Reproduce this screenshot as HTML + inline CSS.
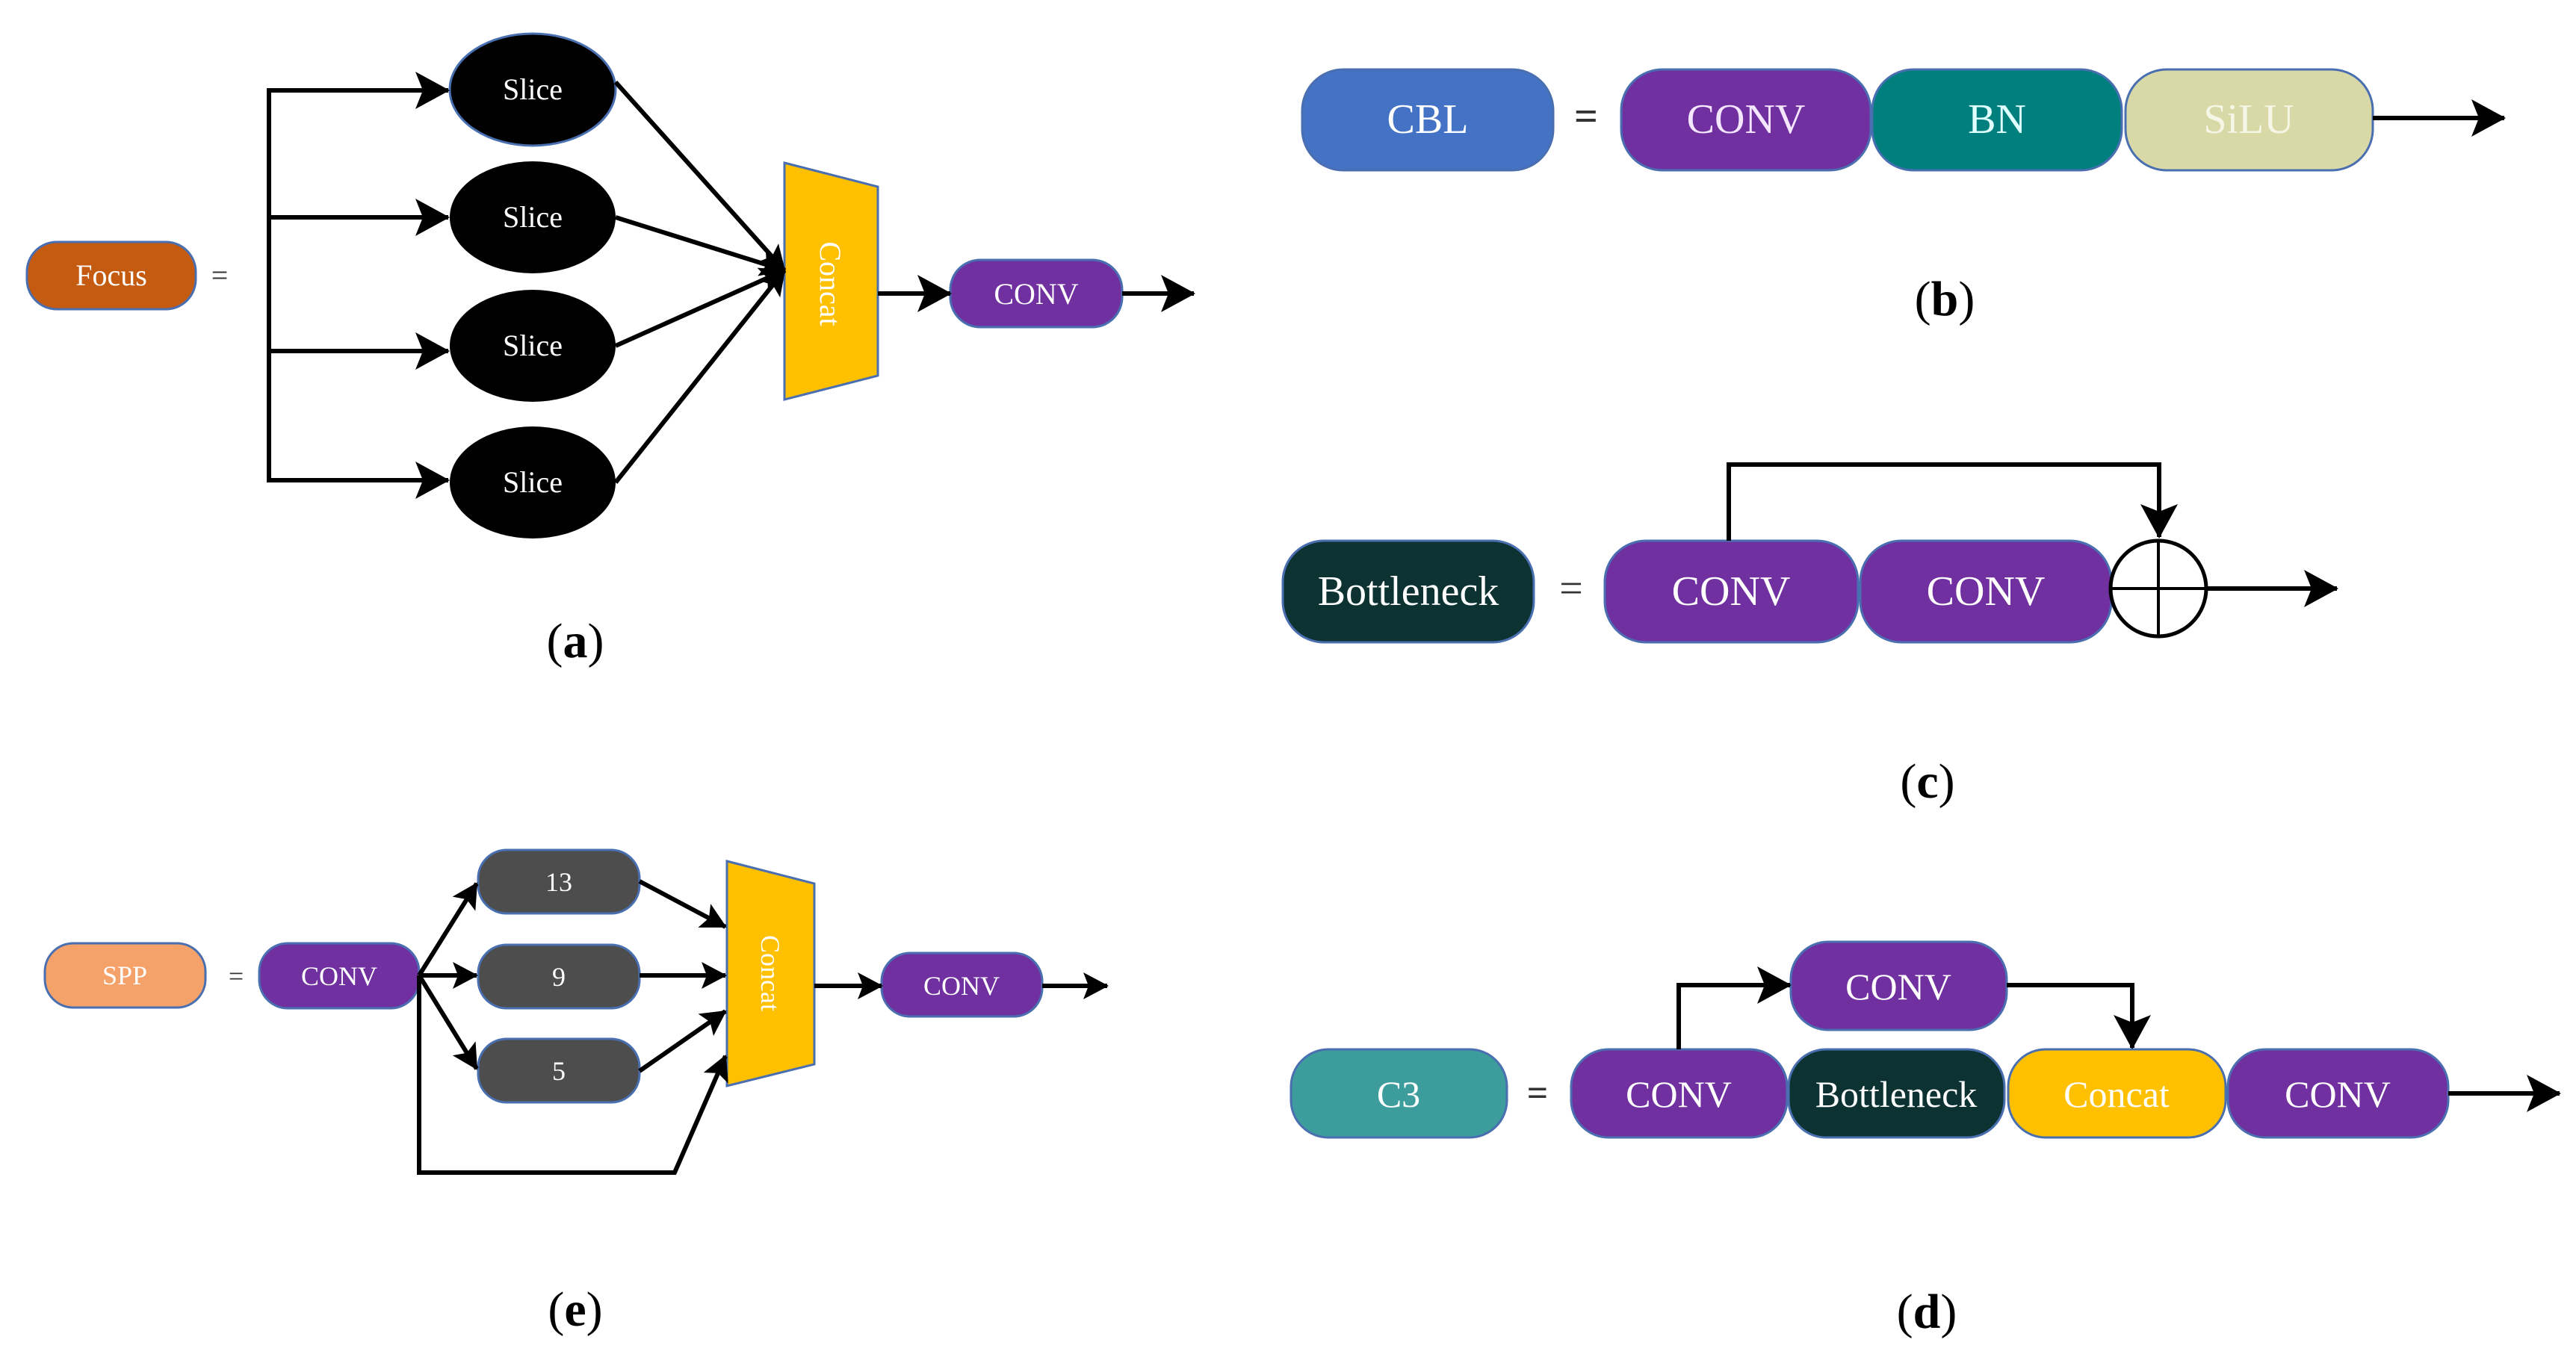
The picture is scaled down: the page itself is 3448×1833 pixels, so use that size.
<!DOCTYPE html>
<html><head><meta charset="utf-8"><style>
html,body{margin:0;padding:0;background:#fff;}
svg{display:block;}
text{font-family:"Liberation Serif",serif;}
</style></head><body>
<svg width="3448" height="1833" viewBox="0 0 3448 1833" xmlns="http://www.w3.org/2000/svg">
<defs>
<marker id="ah" markerUnits="userSpaceOnUse" markerWidth="46" markerHeight="50" refX="44" refY="25" orient="auto">
<path d="M0,0 L46,25 L0,50 L10,25 Z" fill="#000"/>
</marker>
<marker id="as" markerUnits="userSpaceOnUse" markerWidth="34" markerHeight="36" refX="32" refY="18" orient="auto">
<path d="M0,0 L34,18 L0,36 L7,18 Z" fill="#000"/>
</marker>
</defs>
<g stroke="#4a6fb0" stroke-width="3">
<rect x="36" y="324" width="226" height="90" rx="40" fill="#c55a11"/>
<ellipse cx="713" cy="120" rx="111" ry="75" fill="#000"/>
<ellipse cx="713" cy="291" rx="111" ry="75" fill="#000" stroke="none"/>
<ellipse cx="713" cy="463" rx="111" ry="75" fill="#000" stroke="none"/>
<ellipse cx="713" cy="646" rx="111" ry="75" fill="#000" stroke="none"/>
<polygon points="1050,218 1175,250 1175,503 1050,535" fill="#ffc000"/>
<rect x="1272" y="348" width="230" height="90" rx="40" fill="#7030a0"/>
<rect x="1743" y="93" width="336" height="135" rx="55" fill="#4472c4"/>
<rect x="2170" y="93" width="334" height="135" rx="55" fill="#7030a0"/>
<rect x="2506" y="93" width="334" height="135" rx="55" fill="#007f7f"/>
<rect x="2845" y="93" width="331" height="135" rx="55" fill="#d9d9a7"/>
<rect x="1717" y="724" width="336" height="136" rx="55" fill="#0c3232"/>
<rect x="2148" y="724" width="339" height="136" rx="55" fill="#7030a0"/>
<rect x="2490" y="724" width="336" height="136" rx="55" fill="#7030a0"/>
<rect x="60" y="1263" width="215" height="86" rx="38" fill="#f4a26a"/>
<rect x="347" y="1263" width="214" height="87" rx="38" fill="#7030a0"/>
<rect x="640" y="1138" width="216" height="85" rx="38" fill="#4d4d4d"/>
<rect x="640" y="1265" width="216" height="85" rx="38" fill="#4d4d4d"/>
<rect x="640" y="1391" width="216" height="85" rx="38" fill="#4d4d4d"/>
<polygon points="973,1153 1090,1183 1090,1425 973,1454" fill="#ffc000"/>
<rect x="1180" y="1276" width="215" height="85" rx="38" fill="#7030a0"/>
<rect x="1728" y="1405" width="289" height="118" rx="50" fill="#3d9d9d"/>
<rect x="2103" y="1405" width="289" height="118" rx="50" fill="#7030a0"/>
<rect x="2394" y="1405" width="289" height="118" rx="50" fill="#0c3232"/>
<rect x="2688" y="1405" width="291" height="118" rx="50" fill="#ffc000"/>
<rect x="2982" y="1405" width="295" height="118" rx="50" fill="#7030a0"/>
<rect x="2397" y="1261" width="289" height="118" rx="50" fill="#7030a0"/>
</g>
<g fill="none" stroke="#000" stroke-width="6">
<path d="M360,121 V643"/>
<path d="M357,121 H600" marker-end="url(#ah)"/>
<path d="M357,291 H600" marker-end="url(#ah)"/>
<path d="M357,470 H600" marker-end="url(#ah)"/>
<path d="M357,643 H600" marker-end="url(#ah)"/>
<path d="M824,110 L1050,362" marker-end="url(#as)"/>
<path d="M824,291 L1050,362" marker-end="url(#as)"/>
<path d="M824,463 L1050,362" marker-end="url(#as)"/>
<path d="M824,646 L1050,362" marker-end="url(#as)"/>
<path d="M1175,393 H1272" marker-end="url(#ah)"/>
<path d="M1502,393 H1598" marker-end="url(#ah)"/>
<path d="M3176,158 H3352" marker-end="url(#ah)"/>
<path d="M2314,724 V622 H2890 V719" marker-end="url(#ah)"/>
<circle cx="2889" cy="788" r="64" stroke-width="5"/>
<path d="M2889,724 V852 M2825,788 H2953" stroke-width="4"/>
<path d="M2953,788 H3128" marker-end="url(#ah)"/>
<path d="M561,1306 L638,1183" marker-end="url(#as)"/>
<path d="M561,1306 H638" marker-end="url(#as)"/>
<path d="M561,1306 L638,1431" marker-end="url(#as)"/>
<path d="M856,1180 L971,1241" marker-end="url(#as)"/>
<path d="M856,1306 H971" marker-end="url(#as)"/>
<path d="M856,1434 L971,1354" marker-end="url(#as)"/>
<path d="M561,1306 V1570 H903 L971,1414" marker-end="url(#as)"/>
<path d="M1090,1320 H1180" marker-end="url(#as)"/>
<path d="M1395,1320 H1482" marker-end="url(#as)"/>
<path d="M2247,1405 V1319 H2396" marker-end="url(#ah)"/>
<path d="M2686,1319 H2854 V1403" marker-end="url(#ah)"/>
<path d="M3277,1464 H3426" marker-end="url(#ah)"/>
</g>
<g fill="#fff" text-anchor="middle">
<text x="149" y="382" font-size="40">Focus</text>
<text x="713" y="133" font-size="40">Slice</text>
<text x="713" y="304" font-size="40">Slice</text>
<text x="713" y="476" font-size="40">Slice</text>
<text x="713" y="659" font-size="40">Slice</text>
<text x="0" y="0" font-size="40" transform="translate(1098,380) rotate(90)">Concat</text>
<text x="1387" y="407" font-size="40">CONV</text>
<text x="1911" y="178" font-size="56">CBL</text>
<text x="2337" y="178" font-size="56" fill="#f5e6ff">CONV</text>
<text x="2673" y="178" font-size="56" fill="#e0ffff">BN</text>
<text x="3010" y="178" font-size="56" fill="#f6f6e6">SiLU</text>
<text x="1885" y="810" font-size="56">Bottleneck</text>
<text x="2317" y="810" font-size="56">CONV</text>
<text x="2658" y="810" font-size="56">CONV</text>
<text x="167" y="1318" font-size="36">SPP</text>
<text x="454" y="1319" font-size="36">CONV</text>
<text x="748" y="1193" font-size="36">13</text>
<text x="748" y="1320" font-size="36">9</text>
<text x="748" y="1446" font-size="36">5</text>
<text x="0" y="0" font-size="36" transform="translate(1019,1303) rotate(90)">Concat</text>
<text x="1287" y="1332" font-size="36">CONV</text>
<text x="1872" y="1482" font-size="50">C3</text>
<text x="2247" y="1482" font-size="50">CONV</text>
<text x="2538" y="1482" font-size="50">Bottleneck</text>
<text x="2833" y="1482" font-size="50">Concat</text>
<text x="3129" y="1482" font-size="50">CONV</text>
<text x="2541" y="1338" font-size="50">CONV</text>
</g>
<g fill="#333" text-anchor="middle">
<text x="294" y="382" font-size="40">=</text>
<text x="2123" y="174" font-size="56" font-weight="bold">=</text>
<text x="2103" y="806" font-size="56">=</text>
<text x="316" y="1319" font-size="36">=</text>
<text x="2058" y="1480" font-size="50" font-weight="bold">=</text>
</g>
<g fill="#000" text-anchor="middle" font-size="66">
<text x="770" y="880">(<tspan font-weight="bold">a</tspan>)</text>
<text x="2603" y="422">(<tspan font-weight="bold">b</tspan>)</text>
<text x="2580" y="1068">(<tspan font-weight="bold">c</tspan>)</text>
<text x="770" y="1775">(<tspan font-weight="bold">e</tspan>)</text>
<text x="2579" y="1778">(<tspan font-weight="bold">d</tspan>)</text>
</g>
</svg>
</body></html>
